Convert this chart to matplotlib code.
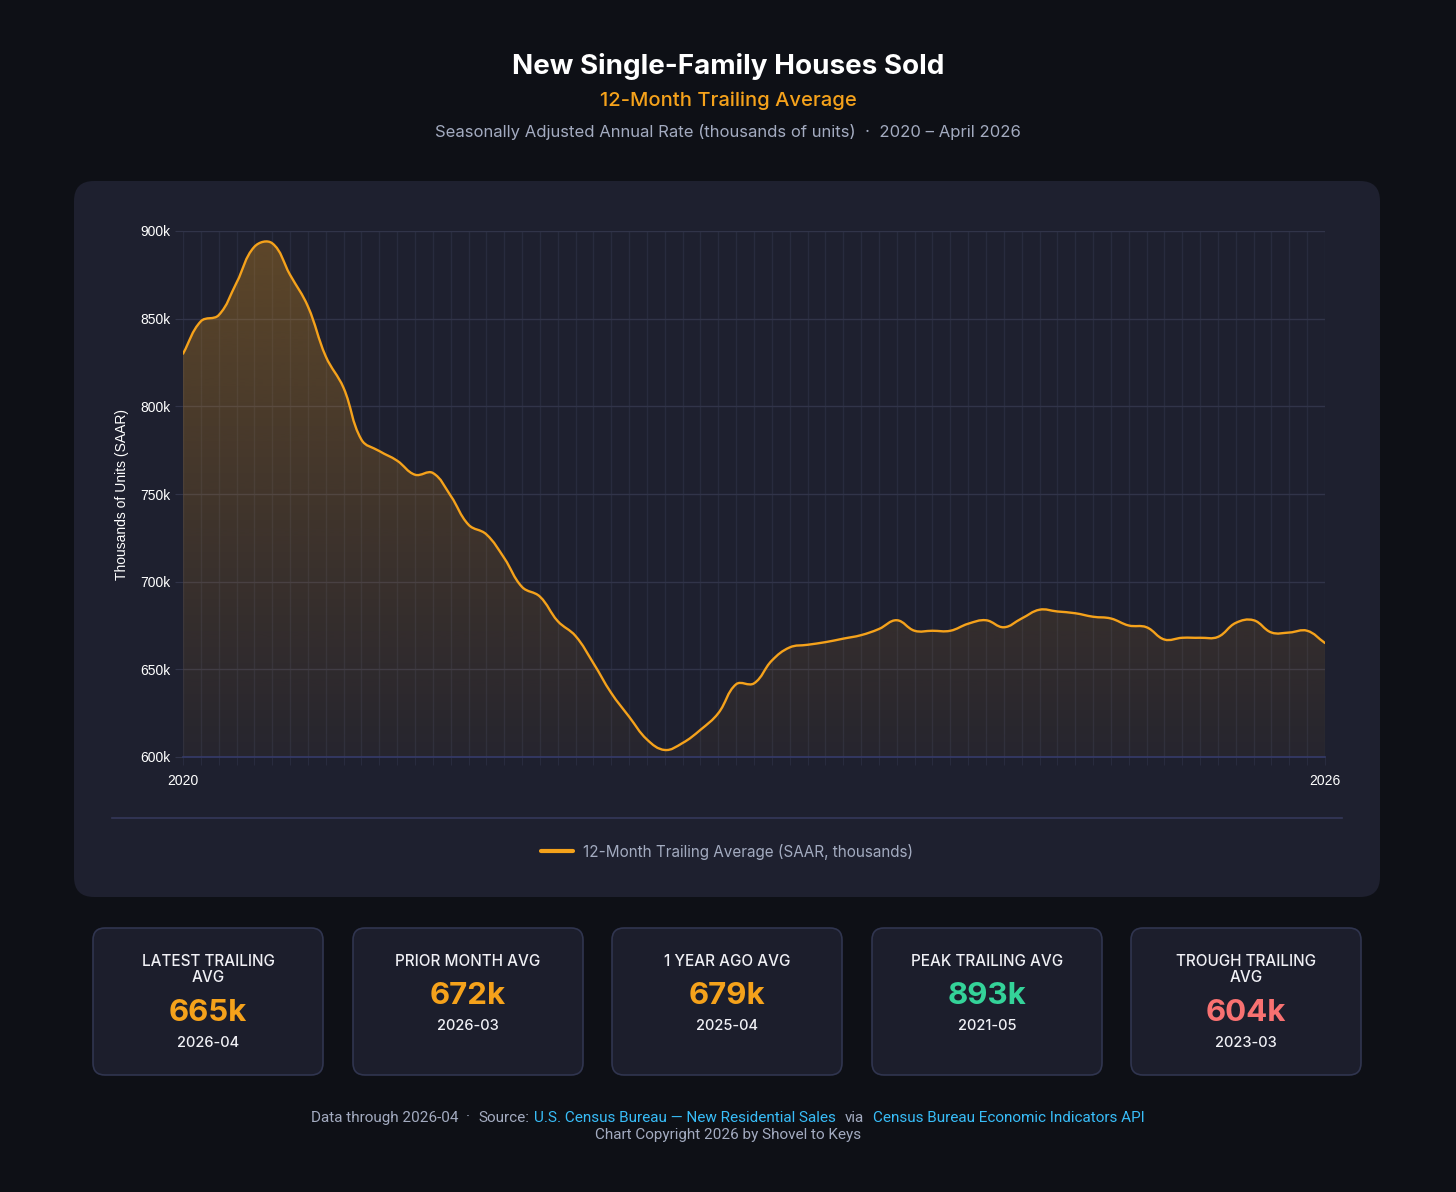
import numpy as np
import matplotlib.pyplot as plt
from matplotlib.patches import FancyBboxPatch, PathPatch
from matplotlib.path import Path

# 12-month trailing average of new single-family houses sold, SAAR (thousands)
# monthly from 2020-12 through 2026-04
start_year, start_month = 2020, 12
trailing_avg = [
    830, 848.5, 852, 870.5, 891, 893, 875, 857, 828.5, 810.5,
    781, 774.5, 769, 761, 762, 749, 732.5, 727, 713.5, 697,
    691.5, 677.5, 669, 653.5, 636.5, 623, 610, 604, 608, 615.5,
    625, 641.5, 642, 655, 662.5, 664, 665.5, 667.5, 669.5, 673,
    678, 672, 672, 672, 676, 678, 674, 679, 684, 683,
    682, 680, 679, 675, 674, 667, 668, 668, 668.5, 676.5,
    678, 671, 671, 672, 665,
]
y_ticks = [600, 650, 700, 750, 800, 850, 900]
x_edge_labels = ['2020', '2026']

card_titles = ['LATEST TRAILING\nAVG', 'PRIOR MONTH AVG', '1 YEAR AGO AVG',
               'PEAK TRAILING AVG', 'TROUGH TRAILING\nAVG']
card_values = ['665k', '672k', '679k', '893k', '604k']
card_dates = ['2026-04', '2026-03', '2025-04', '2021-05', '2023-03']
card_colors = ['#f5a21b', '#f5a21b', '#f5a21b', '#34d399', '#f87171']

BG = '#0e1016'
PANEL = '#1e202f'
CARD = '#1c1e2c'
ORANGE = '#f5a21b'
MUTED = '#a3abc0'
LINK = '#38bdf8'

W, H = 1456, 1192
fig = plt.figure(figsize=(W / 100, H / 100), dpi=100, facecolor=BG)

# pixel-space canvas for panels and text
bg = fig.add_axes([0, 0, 1, 1], zorder=0)
bg.set_xlim(0, W)
bg.set_ylim(H, 0)
bg.axis('off')

bg.text(728, 66, 'New Single-Family Houses Sold', ha='center', va='center',
        color='white', fontsize=20, fontweight='bold', family='Inter')
bg.text(728, 101, '12-Month Trailing Average', ha='center', va='center',
        color=ORANGE, fontsize=14.5, family='Inter', fontweight='medium')
bg.text(728, 132, 'Seasonally Adjusted Annual Rate (thousands of units)  \u00b7  2020 \u2013 April 2026',
        ha='center', va='center', color=MUTED, fontsize=12, family='Inter')

# main panel
bg.add_patch(FancyBboxPatch((74, 181), 1306, 716, boxstyle='round,pad=0,rounding_size=20',
                            facecolor=PANEL, edgecolor='none'))
bg.plot([112, 1342], [818, 818], color='#34385a', lw=1.2)

# legend
bg.plot([541, 573], [851, 851], color=ORANGE, lw=3, solid_capstyle='round')
bg.text(583, 852, '12-Month Trailing Average (SAAR, thousands)', ha='left', va='center',
        color=MUTED, fontsize=11, family='Inter')

# stat cards
card_w, card_h, card_top = 230, 147, 928
card_lefts = [93, 353, 612, 872, 1131]
for left, title, val, date, col in zip(card_lefts, card_titles, card_values, card_dates, card_colors):
    bg.add_patch(FancyBboxPatch((left, card_top), card_w, card_h,
                                boxstyle='round,pad=0,rounding_size=12',
                                facecolor=CARD, edgecolor='#30354f', lw=1.2))
    cx = left + card_w / 2
    n_lines = title.count('\n') + 1
    shift = 17 * (n_lines - 1)
    bg.text(cx, 961 + shift / 2, title, ha='center', va='center', color='#f0f0f5',
            fontsize=11, family='Inter', fontweight='medium', linespacing=1.1)
    bg.text(cx, 996 + shift, val, ha='center', va='center', color=col,
            fontsize=22.5, fontweight='bold', family='Inter')
    bg.text(cx, 1026 + shift, date, ha='center', va='center', color='#f0f0f5',
            fontsize=10.5, family='Inter', fontweight='medium')

# footer line with coloured links
renderer = fig.canvas.get_renderer()
segments = [
    ('Data through 2026-04', MUTED, 0), ('\u00b7', MUTED, 8), ('Source:', MUTED, 8),
    ('U.S. Census Bureau \u2014 New Residential Sales', LINK, 5), ('via', MUTED, 9),
    ('Census Bureau Economic Indicators API', LINK, 9),
]
pieces, total = [], 0
for txt, col, gap in segments:
    t = bg.text(0, 1118, txt, ha='left', va='center', color=col, fontsize=11, family='Roboto')
    w = t.get_window_extent(renderer=renderer).width
    pieces.append((t, w, gap))
    total += w + gap
x = 728 - total / 2
for t, w, gap in pieces:
    x += gap
    t.set_x(x)
    x += w
bg.text(728, 1135, 'Chart Copyright 2026 by Shovel to Keys', ha='center', va='center',
        color=MUTED, fontsize=11, family='Roboto')

# data axes
ax_l, ax_r, ax_t, ax_b = 183, 1325, 231, 757
ax = fig.add_axes([ax_l / W, 1 - ax_b / H, (ax_r - ax_l) / W, (ax_b - ax_t) / H], zorder=2)
ax.set_facecolor('none')
n = len(trailing_avg)
xs = np.arange(n)
ys = np.array(trailing_avg, dtype=float)
ax.set_xlim(0, n - 1)
ax.set_ylim(600, 900)

# smooth curve: Chart.js style bezier with tension 0.4
sx = (ax_r - ax_l) / (n - 1)
sy = (ax_b - ax_t) / 300.0
px, py = xs * sx, ys * sy
verts, codes = [(xs[0], ys[0])], [Path.MOVETO]
tension = 0.4
cp_prev, cp_next = [], []
for i in range(n):
    p0 = max(i - 1, 0)
    p2 = min(i + 1, n - 1)
    d01 = np.hypot(px[i] - px[p0], py[i] - py[p0])
    d12 = np.hypot(px[p2] - px[i], py[p2] - py[i])
    s01 = d01 / (d01 + d12) if d01 + d12 else 0
    s12 = d12 / (d01 + d12) if d01 + d12 else 0
    fa, fb = tension * s01, tension * s12
    dx, dy = px[p2] - px[p0], py[p2] - py[p0]
    cp_prev.append((px[i] - fa * dx, py[i] - fa * dy))
    cp_next.append((px[i] + fb * dx, py[i] + fb * dy))
for i in range(1, n):
    c1 = cp_next[i - 1]
    c2 = cp_prev[i]
    verts += [(c1[0] / sx, c1[1] / sy), (c2[0] / sx, c2[1] / sy), (xs[i], ys[i])]
    codes += [Path.CURVE4] * 3
line_path = Path(verts, codes)

# gradient fill under the curve (stronger at top, fading to the bottom)
fill_verts = verts + [(xs[-1], 600), (xs[0], 600), (xs[0], ys[0])]
fill_codes = codes + [Path.LINETO, Path.LINETO, Path.CLOSEPOLY]
fill_patch = PathPatch(Path(fill_verts, fill_codes), facecolor='none', edgecolor='none')
ax.add_patch(fill_patch)
grad = np.zeros((256, 1, 4))
grad[:, 0, 0] = 0xf5 / 255
grad[:, 0, 1] = 0xa2 / 255
grad[:, 0, 2] = 0x1b / 255
grad[:, 0, 3] = np.linspace(0.30, 0.04, 256)
img = ax.imshow(grad, extent=[0, n - 1, 600, 900], origin='upper', aspect='auto', zorder=1,
                interpolation='bilinear')
img.set_clip_path(fill_patch)

ax.add_patch(PathPatch(line_path, facecolor='none', edgecolor=ORANGE, lw=1.7, zorder=3,
                       capstyle='round', joinstyle='round'))

# grid and ticks
ax.set_xticks(xs)
labels = [''] * n
labels[0], labels[-1] = x_edge_labels
ax.set_xticklabels(labels)
ax.set_yticks(y_ticks)
ax.set_yticklabels([f'{v}k' for v in y_ticks])
ax.grid(axis='x', color='#282b3e', lw=1)
ax.grid(axis='y', color='#313449', lw=1)
ax.set_axisbelow(True)
ax.tick_params(axis='x', length=6, color='#282b3e', pad=6, labelsize=10, labelcolor='white')
ax.tick_params(axis='y', length=6, color='#313449', pad=3, labelsize=10, labelcolor='white')
for lab in ax.get_xticklabels() + ax.get_yticklabels():
    lab.set_family('Liberation Sans')
for side in ['top', 'right', 'left']:
    ax.spines[side].set_visible(False)
ax.spines['bottom'].set_color('#353b6a')
ax.spines['bottom'].set_linewidth(1.2)
ax.set_ylabel('Thousands of Units (SAAR)', color='white', fontsize=10, family='Liberation Sans',
              labelpad=8)

fig.savefig('out.png', dpi=100, facecolor=BG)
